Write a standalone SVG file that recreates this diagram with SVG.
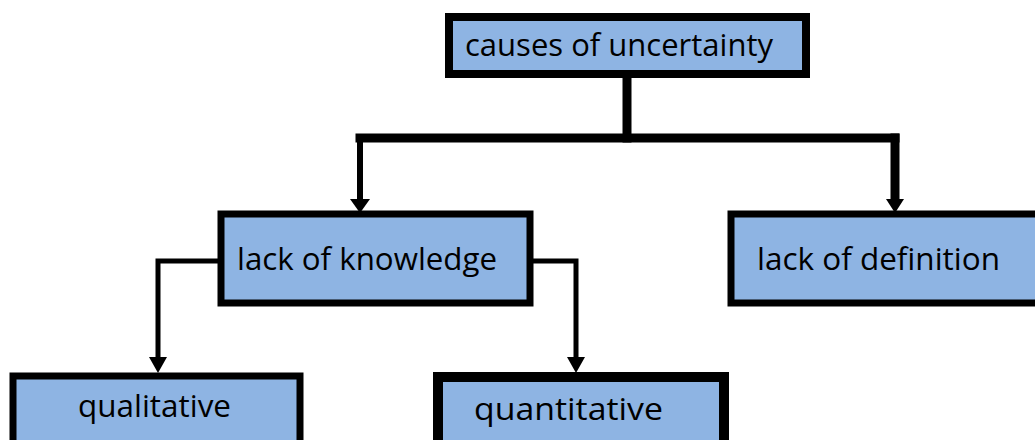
<svg xmlns="http://www.w3.org/2000/svg" width="1035" height="440" viewBox="0 0 1035 440">
  <style>
    .box { fill: #8EB4E3; stroke: #000; }
    .label { font-family: "Open Sans", "Liberation Sans", sans-serif; font-size: 31px; fill: #000; }
    .wire { fill: none; stroke: #000; stroke-linejoin: miter; stroke-linecap: square; }
    .head { fill: #000; }
  </style>

  <!-- connectors -->
  <g id="connectors">
    <path class="wire" d="M627 78 V138" stroke-width="9"/>
    <path class="wire" d="M360 138 H895" stroke-width="9"/>
    <path class="wire" d="M360 138 V200" stroke-width="6"/>
    <path class="wire" d="M895 138 V200" stroke-width="9"/>
    <polygon class="head" points="350,199 370,199 360,213"/>
    <polygon class="head" points="886,199 904,199 895,213"/>

    <path class="wire" d="M217 261 H158 V358" stroke-width="5"/>
    <path class="wire" d="M533 261 H576 V358" stroke-width="5"/>
    <polygon class="head" points="149,357 167,357 158,373"/>
    <polygon class="head" points="567,357 585,357 576,373"/>
  </g>

  <g id="causes">
    <rect class="box" x="449" y="17" width="357" height="57" stroke-width="8"/>
    <text class="label" x="465" y="56" textLength="308" lengthAdjust="spacingAndGlyphs">causes of uncertainty</text>
  </g>

  <g id="knowledge">
    <rect class="box" x="221" y="214" width="309" height="89" stroke-width="7"/>
    <text class="label" x="237" y="270" textLength="260" lengthAdjust="spacingAndGlyphs">lack of knowledge</text>
  </g>

  <g id="definition">
    <rect class="box" x="731" y="214" width="330" height="89" stroke-width="7"/>
    <text class="label" x="757" y="270" textLength="243" lengthAdjust="spacingAndGlyphs">lack of definition</text>
  </g>

  <g id="qualitative">
    <rect class="box" x="13" y="376" width="287" height="90" stroke-width="7"/>
    <text class="label" x="78" y="417" textLength="153" lengthAdjust="spacingAndGlyphs">qualitative</text>
  </g>

  <g id="quantitative">
    <rect class="box" x="438" y="377" width="286" height="90" stroke-width="10"/>
    <text class="label" x="474" y="420" textLength="189" lengthAdjust="spacingAndGlyphs">quantitative</text>
  </g>
</svg>
